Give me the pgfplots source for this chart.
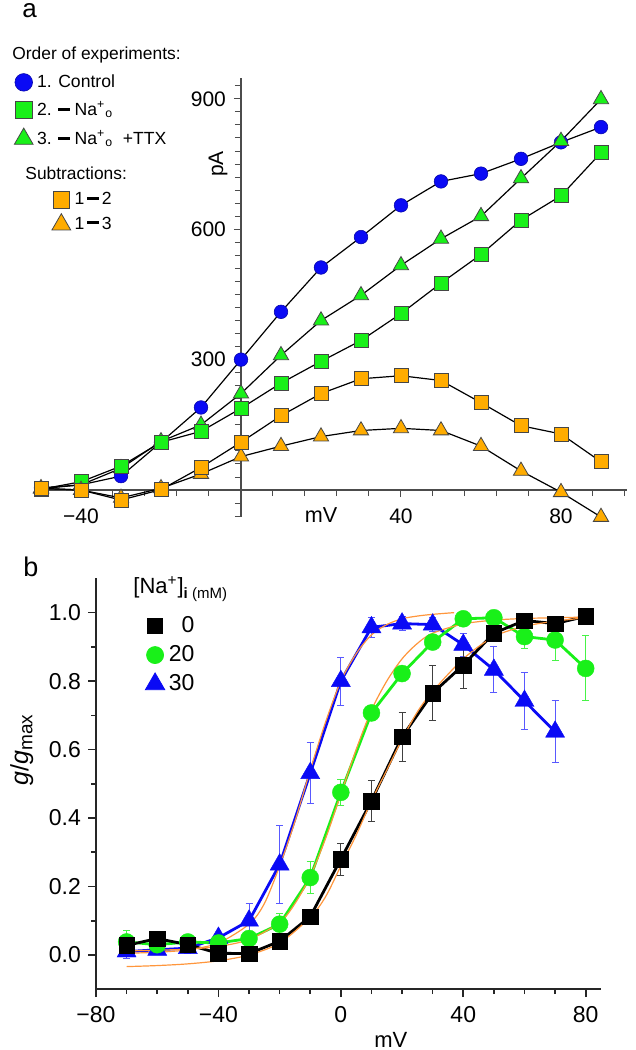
\documentclass[border=0pt]{standalone}
\usepackage{pgfplots}
\pgfplotsset{compat=1.18}
\usepackage{fontspec}
\setmainfont{Liberation Sans}
\definecolor{cblue}{RGB}{10,10,245}
\definecolor{cgreen}{RGB}{25,240,25}
\definecolor{corange}{RGB}{255,172,0}
\definecolor{cfit}{RGB}{255,150,60}
\definecolor{cedge}{RGB}{70,70,70}
\newcommand{\dbar}{\rule[0.28em]{0.65em}{0.16em}}
\begin{document}
\begin{tikzpicture}
\path[use as bounding box] (0,0) rectangle (318pt,525pt);
% ---------------- panel a ----------------
\begin{axis}[
  at={(17.5pt,266.5pt)}, anchor=south west, scale only axis,
  width=296pt, height=219.5pt, clip=false,
  xmin=-51.5, xmax=96.5, ymin=-62, ymax=948,
  axis lines=middle, axis line style={-, line width=0.6pt, color=black!70},
  xtick={-40,40,80}, xticklabels={−40,40,80},
  minor xtick={-48,-32,-24,-16,-8,0,8,16,24,32,48,56,64,72,88,96},
  ytick={300,600,900}, yticklabels={300,600,900},
  minor ytick={-60,-30,0,30,60,90,120,150,180,210,240,270,330,360,390,420,450,480,510,540,570,630,660,690,720,750,780,810,840,870,930},
  tick align=outside, major tick length=3.5pt, minor tick length=3pt,
  every tick/.style={line width=0.5pt, color=black!70},
  ticklabel style={font=\fontsize{10.5}{12}\selectfont},
  xticklabel style={anchor=center, yshift=-9.5pt},
  yticklabel style={xshift=-0.5pt},
  legend style={at={(-0.0355,1.018)}, anchor=north west, draw=none, fill=none,
     inner sep=0pt, row sep=1.5pt, font=\fontsize{8.8}{10.5}\selectfont},
  legend cell align=left,
  legend image code/.code={\draw[#1] plot coordinates {(0pt,0pt)};},
]
\addplot[forget plot, black, line width=0.6pt, mark=*, mark size=3.4pt,
  mark options={fill=cblue, draw=cblue!70!black, line width=0.3pt}] coordinates {
(-50,5)(-40,12)(-30,32)(-20,110)(-10,190)(0,300)(10,410)(20,512)(30,582)(40,655)(50,710)(60,728)(70,762)(80,800)(90,835)};
\addplot[forget plot, black, line width=0.6pt, mark=triangle*, mark size=4.4pt,
  mark options={fill=cgreen, draw=cedge, line width=0.4pt}] coordinates {
(-50,3)(-40,12)(-30,50)(-20,112)(-10,150)(0,222)(10,310)(20,390)(30,448)(40,517)(50,578)(60,630)(70,717)(80,803)(90,899)};
\addplot[forget plot, black, line width=0.6pt, mark=square*, mark size=3.5pt,
  mark options={fill=cgreen, draw=cedge, line width=0.4pt}] coordinates {
(-50,2)(-40,19)(-30,55)(-20,110)(-10,135)(0,188)(10,246)(20,296)(30,344)(40,406)(50,476)(60,542)(70,621)(80,677)(90,776)};
\addplot[forget plot, black, line width=0.6pt, mark=triangle*, mark size=4.4pt,
  mark options={fill=corange, draw=cedge, line width=0.4pt}] coordinates {
(-50,4)(-40,0)(-30,-18)(-20,4)(-10,37)(0,77)(10,101)(20,123)(30,137)(40,142)(50,137)(60,101)(70,44)(80,-5)(90,-62)};
\addplot[forget plot, black, line width=0.6pt, mark=square*, mark size=3.5pt,
  mark options={fill=corange, draw=cedge, line width=0.4pt}] coordinates {
(-50,4)(-40,0)(-30,-23)(-20,1)(-10,52)(0,110)(10,171)(20,222)(30,256)(40,263)(50,252)(60,201)(70,148)(80,129)(90,65)};
\addlegendimage{only marks, mark=*, mark size=4.4pt, mark options={fill=cblue, draw=cblue!70!black, line width=0.3pt}}
\addlegendentry{1. Control}
\addlegendimage{only marks, mark=square*, mark size=4.2pt, mark options={fill=cgreen, draw=cedge, line width=0.4pt}}
\addlegendentry{2. \dbar\ Na\textsuperscript{+}\textsubscript{o}}
\addlegendimage{only marks, mark=triangle*, mark size=5.4pt, mark options={fill=cgreen, draw=cedge, line width=0.4pt}}
\addlegendentry{3. \dbar\ Na\textsuperscript{+}\textsubscript{o} \ +TTX}
\node[font=\fontsize{10.8}{12}\selectfont] at (axis cs:20,-57) {mV};
\node[font=\fontsize{10.5}{12}\selectfont, rotate=90] at (axis cs:-5.75,750) {pA};
\end{axis}
% subtraction legend
\begin{axis}[
  at={(17.5pt,266.5pt)}, anchor=south west, scale only axis,
  width=296pt, height=219.5pt, hide axis,
  xmin=-51.5, xmax=96.5, ymin=-62, ymax=948,
  legend style={at={(0.028,0.749)}, anchor=north west, draw=none, fill=none,
     inner sep=0pt, row sep=0.5pt, font=\fontsize{8.8}{10.5}\selectfont},
  legend cell align=left,
  legend image code/.code={\draw[#1] plot coordinates {(0pt,0pt)};},
]
\addlegendimage{only marks, mark=square*, mark size=4.2pt, mark options={fill=corange, draw=cedge, line width=0.4pt}}
\addlegendentry{1\,\dbar\,2}
\addlegendimage{only marks, mark=triangle*, mark size=5.4pt, mark options={fill=corange, draw=cedge, line width=0.4pt}}
\addlegendentry{1\,\dbar\,3}
\end{axis}
\node[anchor=base west, font=\fontsize{8.7}{10}\selectfont, inner sep=0pt] at (6pt,495pt) {Order of experiments:};
\node[anchor=base west, font=\fontsize{8.7}{10}\selectfont, inner sep=0pt] at (12.5pt,435pt) {Subtractions:};
\node[anchor=base west, font=\fontsize{13}{15}\selectfont, inner sep=0pt] at (11pt,516pt) {a};
% ---------------- panel b ----------------
\begin{axis}[
  at={(48pt,30.4pt)}, anchor=south west, scale only axis,
  width=252.5pt, height=205.4pt, clip=false,
  xmin=-80, xmax=85, ymin=-0.1, ymax=1.1,
  axis lines=left, axis line style={-, line width=0.9pt, color=black!85},
  xtick={-80,-40,0,40,80}, xticklabels={−80,−40,0,40,80},
  minor xtick={-70,-60,-50,-30,-20,-10,10,20,30,50,60,70},
  ytick={0,0.2,0.4,0.6,0.8,1.0}, yticklabels={0.0,0.2,0.4,0.6,0.8,1.0},
  minor ytick={0.1,0.3,0.5,0.7,0.9},
  tick align=outside, major tick length=4pt, minor tick length=2.5pt,
  every tick/.style={line width=0.8pt, color=black!85},
  ticklabel style={font=\fontsize{11.5}{13}\selectfont},
  xticklabel style={yshift=-1pt},
  xlabel={mV}, xlabel style={at={(axis description cs:0.584,-0.124)}, anchor=center, font=\fontsize{11}{13}\selectfont},
  ylabel={\fontsize{12.5}{14}\selectfont\textit{g}/\textit{g}\raisebox{-0.3ex}{\fontsize{9.5}{11}\selectfont max}},
  ylabel style={at={(axis description cs:-0.1465,0.582)}, anchor=center},
  legend style={at={(0.097,0.918)}, anchor=north west, draw=none, fill=none,
     inner sep=0pt, row sep=1pt, font=\fontsize{11.5}{13}\selectfont},
  legend cell align=right,
  legend image code/.code={\draw[#1] plot coordinates {(0pt,0pt)};},
]
% blue 30 mM
\addplot[forget plot, cblue, line width=1.4pt, mark=triangle*, mark size=5.5pt,
  mark options={fill=cblue, draw=cblue, line width=0.2pt},
  error bars/.cd, y dir=both, y explicit,
  error bar style={line width=0.5pt, color=blue!65!white},
  error mark options={rotate=90, mark size=1.75pt, line width=0.5pt, color=blue!65!white}]
  table[x=x, y=y, y error=e] {
x y e
-70 0.010 0.020
-60 0.015 0.015
-50 0.020 0.015
-40 0.050 0.010
-30 0.100 0.050
-20 0.264 0.115
-10 0.531 0.090
0 0.800 0.070
10 0.957 0.030
20 0.968 0.020
30 0.965 0.020
40 0.906 0.033
50 0.833 0.067
60 0.742 0.082
70 0.652 0.090
};
% green 20 mM
\addplot[forget plot, cgreen, line width=1.4pt, mark=*, mark size=4.25pt,
  mark options={fill=cgreen, draw=cgreen, line width=0.2pt},
  error bars/.cd, y dir=both, y explicit,
  error bar style={line width=0.5pt, color=cgreen!80!white},
  error mark options={rotate=90, mark size=1.75pt, line width=0.5pt, color=cgreen!80!white}]
  table[x=x, y=y, y error=e] {
x y e
-70 0.038 0.034
-60 0.030 0.010
-50 0.038 0.010
-40 0.035 0.010
-30 0.048 0.010
-20 0.090 0.030
-10 0.226 0.047
0 0.475 0.038
10 0.707 0.015
20 0.822 0.015
30 0.914 0.015
40 0.982 0.010
50 0.985 0.010
60 0.930 0.035
70 0.920 0.060
80 0.837 0.095
};
% black 0 mM
\addplot[forget plot, black, line width=1.4pt, mark=square*, mark size=3.9pt,
  mark options={fill=black, draw=black, line width=0.2pt},
  error bars/.cd, y dir=both, y explicit,
  error bar style={line width=0.5pt, color=black!75},
  error mark options={rotate=90, mark size=1.75pt, line width=0.5pt, color=black!75}]
  table[x=x, y=y, y error=e] {
x y e
-70 0.028 0.005
-60 0.048 0.005
-50 0.030 0.005
-40 0.005 0.010
-30 0.004 0.020
-20 0.040 0.010
-10 0.112 0.010
0 0.280 0.047
10 0.450 0.060
20 0.637 0.072
30 0.765 0.080
40 0.847 0.070
50 0.940 0.020
60 0.977 0.010
70 0.968 0.010
80 0.989 0.010
};
% Boltzmann fits (orange)
\addplot[forget plot, cfit, line width=0.6pt, smooth, no marks] coordinates {
(-70,0.005)(-60,0.008)(-50,0.015)(-40,0.035)(-30,0.09)(-25,0.15)(-20,0.26)(-15,0.39)(-10,0.54)(-5,0.68)(0,0.80)(5,0.88)(10,0.935)(15,0.965)(20,0.982)(25,0.99)(30,0.995)(37,1.0)};
\addplot[forget plot, cfit, line width=0.6pt, smooth, no marks] coordinates {
(-70,0.012)(-60,0.014)(-50,0.017)(-40,0.025)(-30,0.045)(-20,0.095)(-15,0.15)(-10,0.23)(-5,0.34)(0,0.47)(5,0.60)(10,0.715)(15,0.80)(20,0.865)(25,0.91)(30,0.94)(40,0.967)(50,0.978)(60,0.983)(70,0.985)(80,0.987)};
\addplot[forget plot, cfit, line width=0.6pt, smooth, no marks] coordinates {
(-70,-0.034)(-60,-0.031)(-50,-0.026)(-40,-0.017)(-30,0.0)(-20,0.035)(-10,0.11)(-5,0.17)(0,0.26)(5,0.35)(10,0.45)(15,0.54)(20,0.63)(25,0.71)(30,0.77)(40,0.865)(50,0.93)(60,0.96)(70,0.975)(80,0.985)};
\addlegendimage{only marks, mark=square*, mark size=3.75pt, mark options={fill=black, draw=black}}
\addlegendentry{0}
\addlegendimage{only marks, mark=*, mark size=4.25pt, mark options={fill=cgreen, draw=cgreen}}
\addlegendentry{20}
\addlegendimage{only marks, mark=triangle*, mark size=5.6pt, mark options={fill=cblue, draw=cblue}}
\addlegendentry{30}
\end{axis}
\node[anchor=west, inner sep=0pt] at (66.5pt,230.5pt) {\fontsize{11}{13}\selectfont [Na\textsuperscript{+}]\raisebox{-0.25em}{\fontsize{7.5}{9}\selectfont\textbf{i} (mM)}};
\node[anchor=base west, font=\fontsize{13.5}{15}\selectfont, inner sep=0pt] at (11.5pt,236.5pt) {b};
\end{tikzpicture}
\end{document}
